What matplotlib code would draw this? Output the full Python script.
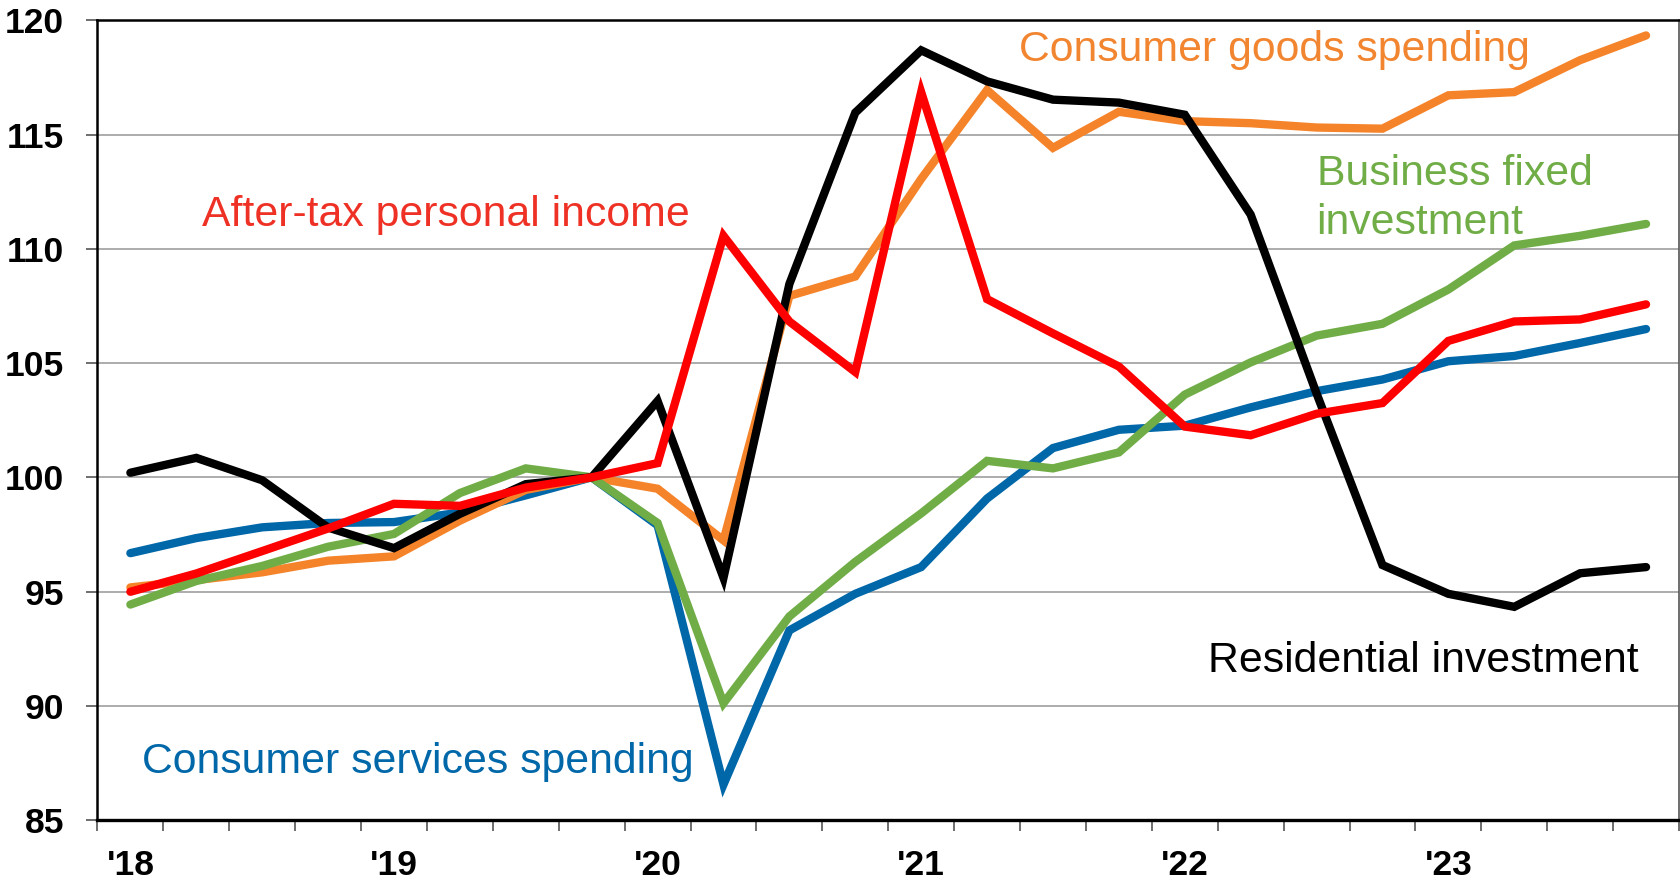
import matplotlib
matplotlib.use("Agg")
import matplotlib.pyplot as plt
from matplotlib.ticker import FixedLocator, NullFormatter

plt.rcParams['font.family'] = ['Liberation Sans', 'DejaVu Sans']

# Quarterly index values, 2018Q1 .. 2023Q4 (2019Q4 = 100)
quarters = [f"{y}Q{q}" for y in range(2018, 2024) for q in range(1, 5)]
year_labels = ["'18", "'19", "'20", "'21", "'22", "'23"]

residential = [100.2, 100.85, 99.87, 97.8, 96.9, 98.4, 99.7, 100.0,
               103.34, 95.6, 108.46, 115.96, 118.69, 117.33, 116.53, 116.4,
               115.87, 111.5, 103.67, 96.16, 94.9, 94.33, 95.8, 96.07]
goods = [95.18, 95.5, 95.84, 96.35, 96.54, 98.1, 99.45, 100.0,
         99.5, 97.24, 107.94, 108.79, 113.06, 116.95, 114.42, 116.0,
         115.59, 115.5, 115.31, 115.26, 116.72, 116.86, 118.26, 119.34]
business = [94.43, 95.46, 96.12, 96.96, 97.52, 99.31, 100.39, 100.0,
            98.0, 90.11, 93.91, 96.3, 98.42, 100.72, 100.39, 101.09,
            103.62, 105.03, 106.2, 106.72, 108.22, 110.15, 110.57, 111.09]
services = [96.68, 97.34, 97.81, 98.0, 98.04, 98.46, 99.21, 100.0,
            97.9, 86.55, 93.3, 94.9, 96.07, 99.07, 101.28, 102.08,
            102.26, 103.06, 103.77, 104.28, 105.08, 105.31, 105.88, 106.49]
income = [94.99, 95.79, 96.77, 97.76, 98.84, 98.75, 99.55, 100.0,
          100.62, 110.57, 106.82, 104.61, 116.86, 107.8, 106.3, 104.85,
          102.22, 101.84, 102.78, 103.25, 105.97, 106.82, 106.91, 107.57]

C_BLUE = '#0067A9'
C_ORANGE = '#F5832A'
C_GREEN = '#70AD47'
C_BLACK = '#000000'
C_RED = '#FF0000'

fig = plt.figure(figsize=(16.8, 8.86), dpi=100)
ax = fig.add_axes([0.058, 0.0745, 0.9414, 0.9025])

x = list(range(len(quarters)))
lw = 6.0
kw = dict(lw=lw, solid_capstyle='round', solid_joinstyle='miter')
ax.plot(x, services, color=C_BLUE, zorder=3, **kw)
ax.plot(x, goods, color=C_ORANGE, zorder=3, **kw)
ax.plot(x, business, color=C_GREEN, zorder=3, **kw)
ax.plot(x, residential, color=C_BLACK, zorder=4, **kw)
ax.plot(x, income, color=C_RED, zorder=5, **kw)

ax.set_xlim(-0.5, len(quarters) - 0.5)
ax.set_ylim(85, 120)

ax.set_yticks([85, 90, 95, 100, 105, 110, 115, 120])
ax.set_yticklabels(['85', '90', '95', '100', '105', '110', '115', '120'],
                   fontsize=25.5, fontweight='bold')
ax.yaxis.grid(True, color='#A6A6A6', lw=1.3, zorder=0)
ax.set_axisbelow(True)
ax.tick_params(axis='y', length=8, width=1.2, color='#555555', pad=16, direction='out')

# x: boundary ticks (major) and year labels (minor, no tick)
ax.xaxis.set_major_locator(FixedLocator([i - 0.5 for i in range(len(quarters) + 1)]))
ax.xaxis.set_major_formatter(NullFormatter())
ax.xaxis.set_minor_locator(FixedLocator([i * 4 for i in range(len(year_labels))]))
ax.set_xticklabels(year_labels, minor=True, fontsize=25.5, fontweight='bold')
ax.tick_params(axis='x', which='major', length=8, width=1.2, color='#555555', direction='out')
ax.tick_params(axis='x', which='minor', length=0, pad=21)

for s in ['left', 'top']:
    ax.spines[s].set_linewidth(1.8)
    ax.spines[s].set_color('black')
ax.spines['bottom'].set_linewidth(2.4)
ax.spines['bottom'].set_color('black')
ax.spines['right'].set_linewidth(1.2)
ax.spines['right'].set_color('#555555')

fs = 30.8
ax.text(13.49, 118.72, 'Consumer goods spending', color='#F28530', fontsize=fs,
        ha='left', va='center')
ax.text(18.0, 112.2, 'Business fixed\ninvestment', color=C_GREEN, fontsize=fs,
        ha='left', va='center', linespacing=1.3)
ax.text(1.08, 111.5, 'After-tax personal income', color='#EE3124', fontsize=fs,
        ha='left', va='center')
ax.text(0.17, 87.53, 'Consumer services spending', color=C_BLUE, fontsize=fs,
        ha='left', va='center')
ax.text(16.35, 91.95, 'Residential investment', color='black', fontsize=fs,
        ha='left', va='center')

fig.savefig('out.png', dpi=100)
